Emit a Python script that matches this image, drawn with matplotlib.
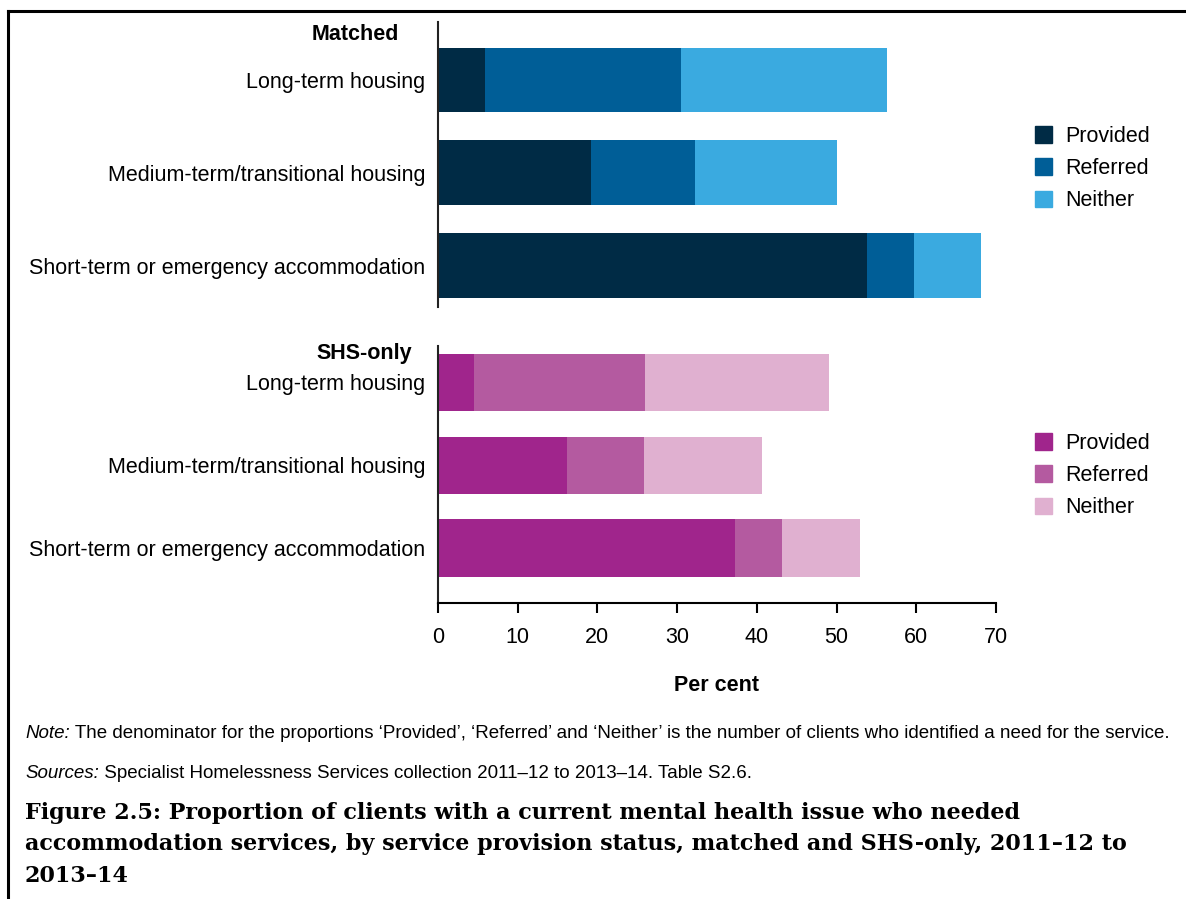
import matplotlib
matplotlib.use("Agg")
import matplotlib.pyplot as plt
from matplotlib.lines import Line2D
from matplotlib.patches import Patch
from matplotlib.text import Annotation

W, H = 1186, 899

categories = ["Long-term housing", "Medium-term/transitional housing", "Short-term or emergency accommodation"]
series = ["Provided", "Referred", "Neither"]

matched_provided = [5.9, 19.2, 53.8]
matched_referred = [24.6, 13.1, 5.9]
matched_neither = [25.8, 17.8, 8.4]

shs_provided = [4.5, 16.2, 37.3]
shs_referred = [21.5, 9.7, 5.8]
shs_neither = [23.1, 14.7, 9.8]

matched_colors = ["#002b45", "#005e97", "#3aaae0"]
shs_colors = ["#a0258c", "#b45aa0", "#e0b0d0"]

note = ("The denominator for the proportions \u2018Provided\u2019, \u2018Referred\u2019 and \u2018Neither\u2019 "
        "is the number of clients who identified a need for the service.")
sources = "Specialist Homelessness Services collection 2011\u201312 to 2013\u201314. Table S2.6."
title = ("Figure 2.5: Proportion of clients with a current mental health issue who needed\n"
         "accommodation services, by service provision status, matched and SHS-only, 2011\u201312 to\n"
         "2013\u201314")

plt.rcParams["font.family"] = ["Liberation Sans", "DejaVu Sans"]

fig = plt.figure(figsize=(W / 100, H / 100), dpi=100)


def px_axes(left, top, right, bottom):
    return fig.add_axes([left / W, 1 - bottom / H, (right - left) / W, (bottom - top) / H])


def stacked(ax, parts, colors, height):
    left = [0] * len(categories)
    for vals, col, name in zip(parts, colors, series):
        ax.barh(range(len(categories)), vals, left=left, color=col, height=height, label=name)
        left = [a + b for a, b in zip(left, vals)]


ax1 = px_axes(438, 22, 996, 307)
stacked(ax1, [matched_provided, matched_referred, matched_neither], matched_colors, 0.70)
ax1.set_ylim(2.447, -0.625)

ax2 = px_axes(438, 346, 996, 603)
stacked(ax2, [shs_provided, shs_referred, shs_neither], shs_colors, 0.69)
ax2.set_ylim(2.665, -0.441)

for ax in (ax1, ax2):
    ax.set_xlim(0, 70)
    ax.set_yticks(range(len(categories)))
    ax.set_yticklabels(categories, fontsize=15.5)
    ax.tick_params(axis="y", length=0, pad=9)
    for s in ("top", "right", "bottom"):
        ax.spines[s].set_visible(False)
    ax.spines["left"].set_linewidth(1.5)
    ax.spines["left"].set_color("#222222")

ax1.set_xticks([])
ax2.spines["bottom"].set_visible(True)
ax2.spines["bottom"].set_linewidth(1.5)
ax2.set_xticks(range(0, 71, 10))
ax2.tick_params(axis="x", labelsize=15.5, length=7, width=1.5, direction="out", pad=10)
ax2.set_xlabel("Per cent", fontsize=15.5, fontweight="bold", labelpad=20)

fig.text(399 / W, 1 - 34 / H, "Matched", ha="right", va="center", fontsize=15.5, fontweight="bold")
fig.text(412 / W, 1 - 353 / H, "SHS-only", ha="right", va="center", fontsize=15.5, fontweight="bold")

legend_kw = dict(frameon=False, fontsize=15.5, handlelength=0.8, handleheight=0.8,
                 handletextpad=0.6, labelspacing=0.52, borderpad=0, borderaxespad=0, loc="upper left")
h1 = [Patch(color=c) for c in matched_colors]
h2 = [Patch(color=c) for c in shs_colors]
fig.legend(h1, series, bbox_to_anchor=(1035 / W, 1 - 126 / H), **legend_kw)
fig.legend(h2, series, bbox_to_anchor=(1035 / W, 1 - 433 / H), **legend_kw)

# notes
t1 = fig.text(25 / W, 1 - 733 / H, "Note:", style="italic", fontsize=13.5, va="center")
fig.add_artist(Annotation(" " + note, xy=(1, 0), xycoords=t1, va="bottom", ha="left", fontsize=13.5))
t2 = fig.text(25 / W, 1 - 773 / H, "Sources:", style="italic", fontsize=13.5, va="center")
fig.add_artist(Annotation(" " + sources, xy=(1, 0), xycoords=t2, va="bottom", ha="left", fontsize=13.5))

fig.text(25 / W, 1 - 802 / H, title, fontsize=16, fontweight="bold", family="DejaVu Serif",
         va="top", ha="left", linespacing=1.55)

# frame
fig.add_artist(Line2D([8 / W, 1], [1 - 11 / H, 1 - 11 / H], transform=fig.transFigure, color="black", lw=2.2))
fig.add_artist(Line2D([8 / W, 8 / W], [1 - 11 / H, 0], transform=fig.transFigure, color="black", lw=2.2))

fig.savefig("out.png", dpi=100)
